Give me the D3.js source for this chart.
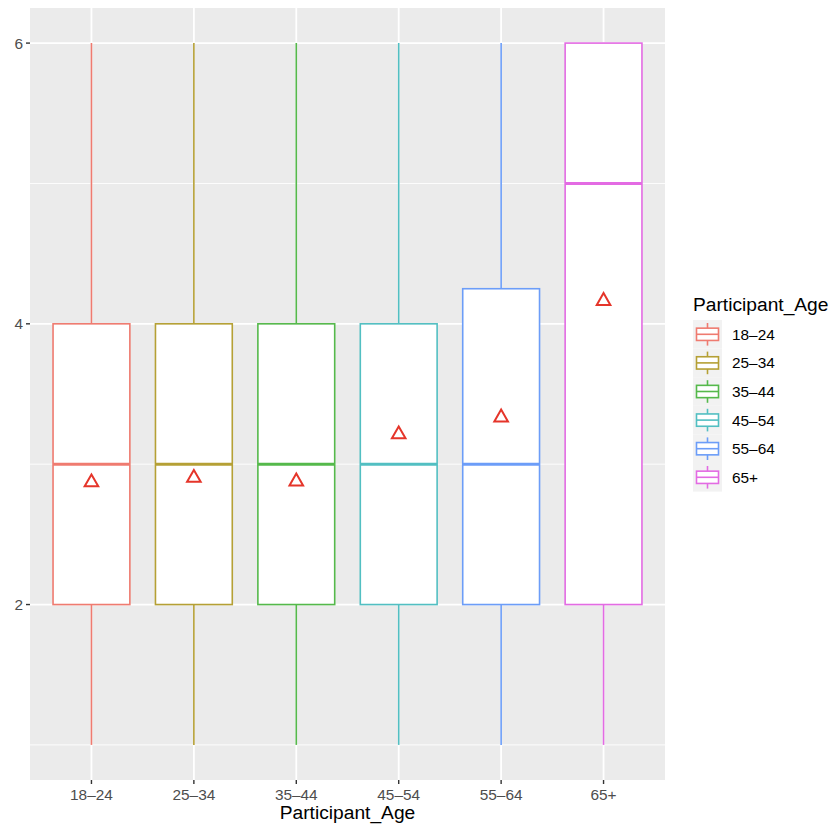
<!DOCTYPE html>
<html><head><meta charset="utf-8">
<script src="https://cdn.jsdelivr.net/npm/d3@7"></script>
<style>body{margin:0;background:#fff;} svg{display:block;font-family:"Liberation Sans",Arial,Helvetica,sans-serif;}</style>
</head><body>
<svg id="c" width="830" height="825"></svg>
<script>
const categories = ["18–24","25–34","35–44","45–54","55–64","65+"];
const colors = ["#EF7B70","#B5A035","#55B94B","#52BFC2","#6C9DF8","#E36BE3"];
const whiskerLow = [1,1,1,1,1,1];
const q1 = [2,2,2,2,2,2];
const median = [3,3,3,3,3,5];
const q3 = [4,4,4,4,4.25,6];
const whiskerHigh = [6,6,6,6,6,6];
const means = [2.877,2.91,2.884,3.22,3.34,4.17];
const yTicks = [2,4,6];
const yMinor = [1,3,5];

const svg = d3.select("#c");
const P = {l:30, r:665, t:8, b:780};
const n = categories.length;
const x = d3.scalePoint().domain(categories).range([P.l,P.r]).padding(0.6);
const step = x.step();
const xc = c => x(c);
const y = d3.scaleLinear().domain([0.75,6.25]).range([P.b,P.t]);

svg.append("rect").attr("x",P.l).attr("y",P.t).attr("width",P.r-P.l).attr("height",P.b-P.t).attr("fill","#EBEBEB");
const g = svg.append("g");
yMinor.forEach(v=>g.append("line").attr("x1",P.l).attr("x2",P.r).attr("y1",y(v)).attr("y2",y(v)).attr("stroke","#fff").attr("stroke-width",0.9));
yTicks.forEach(v=>g.append("line").attr("x1",P.l).attr("x2",P.r).attr("y1",y(v)).attr("y2",y(v)).attr("stroke","#fff").attr("stroke-width",1.8));
categories.forEach(c=>g.append("line").attr("x1",xc(c)).attr("x2",xc(c)).attr("y1",P.t).attr("y2",P.b).attr("stroke","#fff").attr("stroke-width",1.8));

const bw = step*0.75;
categories.forEach((c,i)=>{
  const cx = xc(c), col = colors[i];
  g.append("line").attr("x1",cx).attr("x2",cx).attr("y1",y(whiskerHigh[i])).attr("y2",y(q3[i])).attr("stroke",col).attr("stroke-width",1.6);
  g.append("line").attr("x1",cx).attr("x2",cx).attr("y1",y(q1[i])).attr("y2",y(whiskerLow[i])).attr("stroke",col).attr("stroke-width",1.6);
  g.append("rect").attr("x",cx-bw/2).attr("y",y(q3[i])).attr("width",bw).attr("height",y(q1[i])-y(q3[i])).attr("fill","#fff").attr("stroke",col).attr("stroke-width",1.6);
  g.append("line").attr("x1",cx-bw/2).attr("x2",cx+bw/2).attr("y1",y(median[i])).attr("y2",y(median[i])).attr("stroke",col).attr("stroke-width",3);
});
// means
const tri = d3.symbol().type(d3.symbolTriangle).size(80);
categories.forEach((c,i)=>{
  g.append("path").attr("d",tri()).attr("transform",`translate(${xc(c)},${y(means[i])+1})`).attr("fill","none").attr("stroke","#E5352A").attr("stroke-width",2);
});

// axes
categories.forEach(c=>{
  svg.append("line").attr("x1",xc(c)).attr("x2",xc(c)).attr("y1",P.b).attr("y2",P.b+4).attr("stroke","#333").attr("stroke-width",1.4);
  svg.append("text").attr("x",xc(c)).attr("y",P.b+19.5).attr("text-anchor","middle").attr("font-size",15.4).attr("fill","#4D4D4D").text(c);
});
yTicks.forEach(v=>{
  svg.append("line").attr("x1",P.l-4).attr("x2",P.l).attr("y1",y(v)).attr("y2",y(v)).attr("stroke","#333").attr("stroke-width",1.4);
  svg.append("text").attr("x",P.l-7).attr("y",y(v)+5.5).attr("text-anchor","end").attr("font-size",15.4).attr("fill","#4D4D4D").text(v);
});
svg.append("text").attr("x",(P.l+P.r)/2).attr("y",819).attr("text-anchor","middle").attr("font-size",19.2).attr("fill","#000").text("Participant_Age");

// legend
const L = {x:693, y:320, k:28.6, w:29};
svg.append("text").attr("x",L.x).attr("y",311).attr("font-size",19.2).attr("fill","#000").text("Participant_Age");
categories.forEach((c,i)=>{
  const ky = L.y + i*L.k, col = colors[i];
  svg.append("rect").attr("x",L.x).attr("y",ky).attr("width",L.w).attr("height",L.k).attr("fill","#F2F2F2");
  const cx = L.x+L.w/2;
  svg.append("line").attr("x1",cx).attr("x2",cx).attr("y1",ky+3).attr("y2",ky+L.k-3).attr("stroke",col).attr("stroke-width",1.6);
  svg.append("rect").attr("x",L.x+3.5).attr("y",ky+L.k*0.25+1).attr("width",L.w-7).attr("height",L.k*0.5-2).attr("fill","#fff").attr("stroke",col).attr("stroke-width",1.6);
  svg.append("line").attr("x1",L.x+3.5).attr("x2",L.x+L.w-3.5).attr("y1",ky+L.k/2).attr("y2",ky+L.k/2).attr("stroke",col).attr("stroke-width",1.6);
  svg.append("text").attr("x",732).attr("y",ky+L.k/2+5.5).attr("font-size",15.4).attr("fill","#000").text(c);
});
</script>
</body></html>
